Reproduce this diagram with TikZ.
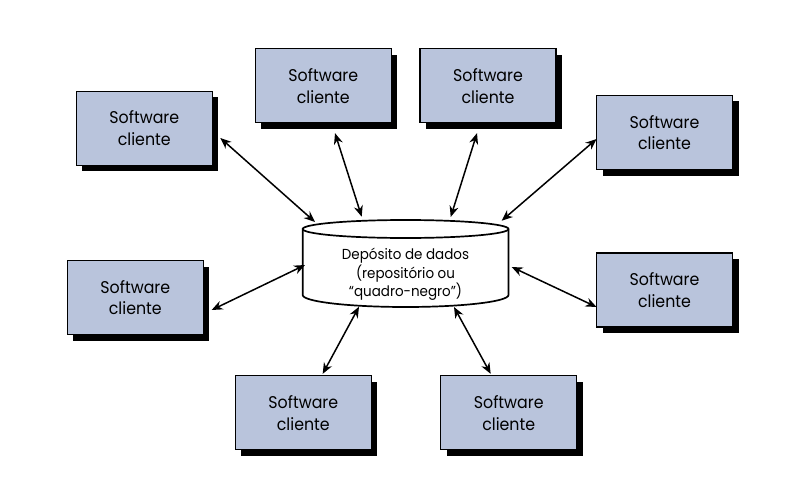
\documentclass[tikz,border=0pt]{standalone}
\usepackage{fontspec}
\setmainfont{Poppins}[FakeStretch=0.93]
\usetikzlibrary{arrows.meta,shadows}
\definecolor{boxfill}{RGB}{185,196,220}

\begin{document}
\begin{tikzpicture}[x=1pt,y=1pt,
    client/.style={fill=boxfill,draw,line width=1.3pt,minimum width=136pt,
      minimum height=74pt,align=center,font=\fontsize{17}{21.7}\selectfont,
      drop shadow={shadow xshift=6pt,shadow yshift=-6pt,fill=black,opacity=1}},
    link/.style={{Stealth[length=11pt,width=9pt]}-{Stealth[length=11pt,width=9pt]},
      line width=1.5pt}]
  \useasboundingbox (0,0) rectangle (805,483);
  % depósito (cilindro)
  \draw[fill=white,line width=1.7pt] (302.7,254) -- (302.7,188)
    arc[start angle=180,end angle=360,x radius=102.9,y radius=12]
    -- (508.5,254) arc[start angle=0,end angle=180,x radius=102.9,y radius=9] -- cycle;
  \draw[line width=1.7pt] (302.7,254) arc[start angle=180,end angle=360,x radius=102.9,y radius=9];
  \node[align=center,font=\fontsize{14.5}{18.7}\selectfont] (db) at (405.5,208.5)
    {Depósito de dados\\(repositório ou\\“quadro-negro”)};
  % clientes
  \draw
    (144.3,354.7) node[client] (c1){Software\\cliente}
    (323.3,397.2) node[client] (c2){Software\\cliente}
    (488.0,397.2) node[client] (c3){Software\\cliente}
    (664.5,350.5) node[client] (c4){Software\\cliente}
    (135.3,185.5) node[client] (c5){Software\\cliente}
    (664.5,193.0) node[client] (c6){Software\\cliente}
    (303.3,70.2) node[client] (c7){Software\\cliente}
    (508.7,70.2) node[client] (c8){Software\\cliente};
  % pontos no cilindro
  \coordinate (d1) at (315,261);
  \coordinate (d2) at (361.7,266.3);
  \coordinate (d3) at (450.7,266);
  \coordinate (d4) at (501.7,262.3);
  \coordinate (d5) at (305,218);
  \coordinate (d6) at (511.7,216);
  \coordinate (d7) at (359,176.3);
  \coordinate (d8) at (454,176);
  \begin{scope}[link]
    \draw ([shift={(7.4,-9.7)}]c1.east) to (d1);
    \draw ([shift={(11.7,-9.7)}]c2.south) to (d2);
    \draw ([shift={(-11,-9.7)}]c3.south) to (d3);
    \draw ([shift={(0.7,-6.5)}]c4.west) to (d4);
    \draw ([shift={(7.7,-12.5)}]c5.east) to (d5);
    \draw ([shift={(0.7,-17)}]c6.west) to (d6);
    \draw ([shift={(19.4,1.3)}]c7.north) to (d7);
    \draw ([shift={(-18,1.3)}]c8.north) to (d8);
  \end{scope}
\end{tikzpicture}
\end{document}
